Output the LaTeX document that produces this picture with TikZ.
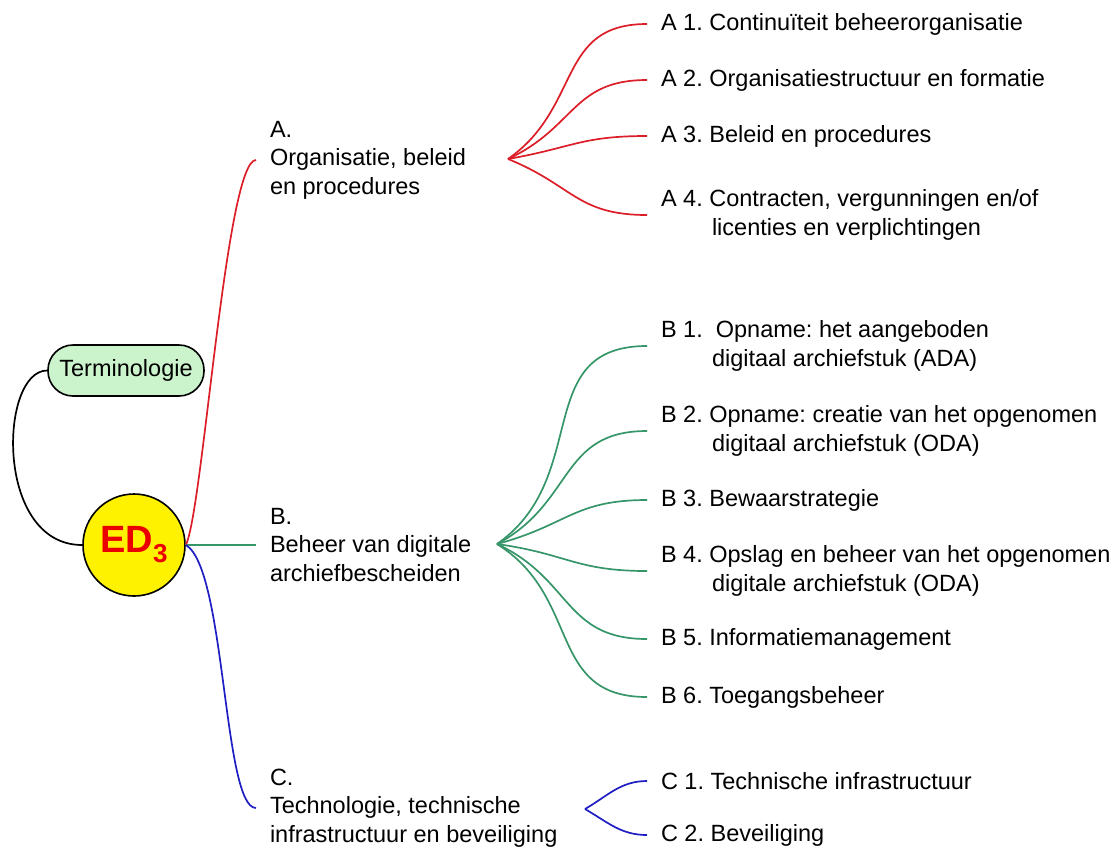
\documentclass[tikz,border=0pt]{standalone}
\usepackage{fontspec}
\setmainfont{Liberation Sans}
\frenchspacing
\definecolor{termgreen}{RGB}{204,244,204}
\definecolor{linered}{RGB}{220,30,40}
\definecolor{linegreen}{RGB}{55,150,105}
\definecolor{lineblue}{RGB}{30,30,195}
\definecolor{edred}{RGB}{235,0,0}
\begin{document}
\begin{tikzpicture}[x=1pt,y=1pt,
    leaf/.style={inner sep=0pt,outer xsep=14pt,outer ysep=0pt,anchor=west,align=left,
      text=black,font=\fontsize{23.5}{28.5}\selectfont},
    twig/.style={line width=1.7pt}]
  \useasboundingbox (0,0) rectangle (1115,-847);
  \node [circle,draw,line width=1.6pt,fill=yellow,minimum size=102pt,inner sep=0pt,text=edred] (ed) at (134,-545)
    {\fontsize{38}{38}\selectfont\bfseries ED\raisebox{-10pt}{\fontsize{26}{26}\selectfont 3}};
  \node [draw,line width=1.6pt,fill=termgreen,rounded corners=25pt,minimum width=156pt,minimum height=51pt,
    inner sep=0pt,font=\fontsize{23.5}{28.5}\selectfont] (term) at (126,-370.5) {Terminologie};
  \draw [twig] (term.west) .. controls +(-48,0) and +(-88,0) .. (ed.west);
  \node [leaf] (A) at (256,-160) {A.\\Organisatie, beleid\\en procedures};
  \node [leaf] (B) at (256,-545) {B.\\Beheer van digitale\\archiefbescheiden};
  \node [leaf] (C) at (256,-808) {C.\\Technologie, technische\\infrastructuur en beveiliging};
  \draw [twig,linered] (ed.east) .. controls +(17,33) and +(-30,0) .. (A.west);
  \draw [twig,linegreen] (ed.east) -- (B.west);
  \draw [twig,lineblue] (ed.east) .. controls +(40,-23) and +(-33,0) .. (C.west);
  \node [leaf] (a1) at (647,-24) {A 1. Continuïteit beheerorganisatie};
  \node [leaf] (a2) at (647,-80) {A 2. Organisatiestructuur en formatie};
  \node [leaf] (a3) at (647,-136) {A 3. Beleid en procedures};
  \node [leaf] (a4) at (647,-215) {A 4. Contracten, vergunningen en/of\\\hspace*{51pt}licenties en verplichtingen};
  \node [leaf] (b1) at (647,-346) {B 1.\ \ Opname: het aangeboden\\\hspace*{51pt}digitaal archiefstuk (ADA)};
  \node [leaf] (b2) at (647,-431) {B 2. Opname: creatie van het opgenomen\\\hspace*{51pt}digitaal archiefstuk (ODA)};
  \node [leaf] (b3) at (647,-500) {B 3. Bewaarstrategie};
  \node [leaf] (b4) at (647,-571) {B 4. Opslag en beheer van het opgenomen\\\hspace*{51pt}digitale archiefstuk (ODA)};
  \node [leaf] (b5) at (647,-639) {B 5. Informatiemanagement};
  \node [leaf] (b6) at (647,-697) {B 6. Toegangsbeheer};
  \node [leaf] (c1) at (647,-781) {C 1. Technische infrastructuur};
  \node [leaf] (c2) at (647,-835) {C 2. Beveiliging};
  \coordinate (fa) at (508,-159);
  \coordinate (fb) at (497,-544);
  \coordinate (fc) at (585,-809);
  \foreach \n/\o in {a1/35,a2/25,a3/10,a4/-22}
    \draw [twig,linered] (fa) to [out=\o,in=180,looseness=1.2] (\n.west);
  \foreach \n/\o in {b1/35,b2/28,b3/15,b4/-8,b5/-25,b6/-32}
    \draw [twig,linegreen] (fb) to [out=\o,in=180,looseness=1.2] (\n.west);
  \foreach \n/\o in {c1/30,c2/-30}
    \draw [twig,lineblue] (fc) to [out=\o,in=180] (\n.west);
\end{tikzpicture}
\end{document}
